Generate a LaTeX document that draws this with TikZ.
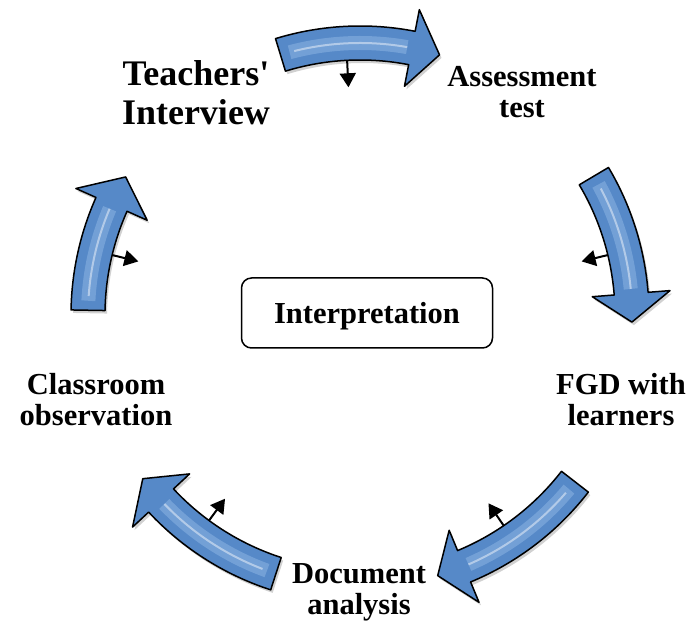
\documentclass[tikz,border=0pt]{standalone}
\usepackage{fontspec}
\setmainfont{Liberation Serif}
\usetikzlibrary{arrows.meta}
\definecolor{arrowblue}{RGB}{86,137,200}
\definecolor{arrowlight}{RGB}{170,205,242}
\tikzset{
  stage/.style={font=\bfseries\fontsize{30.5}{31}\selectfont, align=center, inner sep=0pt},
  centrebox/.style={draw, line width=1.5pt, rounded corners=10pt, minimum width=251pt, minimum height=70pt, text depth=0pt, font=\bfseries\fontsize{30.5}{31}\selectfont},
  bendarrow/.style={fill=arrowblue, draw=black, line width=1.5pt, line join=round},
  pointer/.style={line width=2pt, -{Triangle[length=14pt,width=16pt]}},
}
\begin{document}
\begin{tikzpicture}[x=1pt,y=1pt]
\useasboundingbox (0,0) rectangle (691,624);

\node[stage, font=\bfseries\fontsize{36}{39}\selectfont] (teach) at (196,531) {Teachers\textquotesingle\\Interview};
\node[stage] (assess) at (522,532) {Assessment\\test};
\node[stage] (fgd) at (621,224) {FGD with\\learners};
\node[stage] (docu) at (359,32) {Document\\analysis};
\node[stage] (class) at (96,224) {Classroom\\observation};
\node[centrebox] (interp) at (367,311) {Interpretation};

\begin{scope}[shift={(360,309)}]
\foreach \a/\b/\tp/\p [count=\i] in {107/79/73/92.9, 30.7/4.5/-1.5/13.6, -37.8/-67.5/-73.4/-55.7, -108/-137/-143/233.7, 179/156/149.5/166.4}{
  \fill[black, opacity=.18, shift={(2,-3)}] (\a:289) arc[start angle=\a, end angle=\b, radius=289pt] -- (\b:311) -- (\tp:272) -- (\b:233) -- (\b:255) arc[start angle=\b, end angle=\a, radius=255pt] -- cycle;
  \path[bendarrow] (\a:289) arc[start angle=\a, end angle=\b, radius=289pt] -- (\b:311) -- (\tp:272) -- (\b:233) -- (\b:255) arc[start angle=\b, end angle=\a, radius=255pt] -- cycle;
  \draw[arrowlight, line width=14pt, opacity=.35] (\a-2:272) arc[start angle=\a-2, end angle=\b+1, radius=272pt];
  \draw[white, line width=2pt, opacity=.45] (\a-3:272) arc[start angle=\a-3, end angle=\b+1, radius=272pt];
  \coordinate (s\i) at (\p:255);
  \coordinate (e\i) at (\p:228);
  \draw[pointer] (s\i) -- (e\i);
}
\end{scope}
\end{tikzpicture}
\end{document}
